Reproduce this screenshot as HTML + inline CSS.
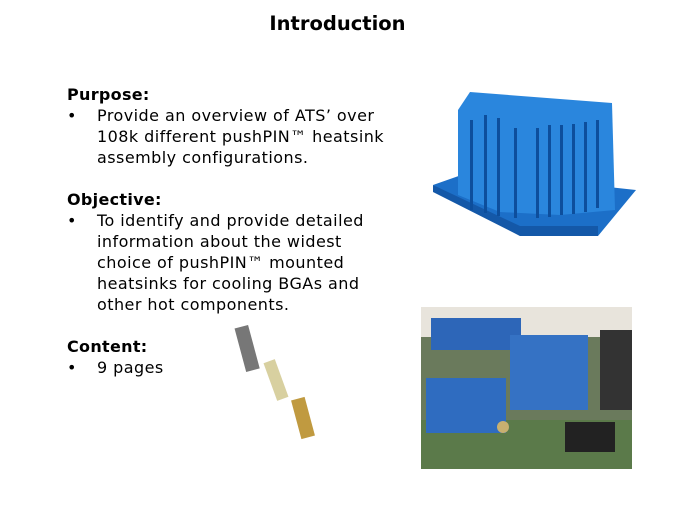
<!DOCTYPE html>
<html><head><meta charset="utf-8"><style>
body{margin:0;width:675px;height:506px;background:#fff;position:relative;overflow:hidden;font-family:"DejaVu Sans","Liberation Sans",sans-serif;color:#000}
.t{position:absolute;left:0;width:675px;top:12px;text-align:center;font-weight:bold;font-size:19.5px}
.x{position:absolute;left:67px;font-size:16px;letter-spacing:0.45px;line-height:21px;white-space:nowrap}
.b{font-weight:bold;letter-spacing:0.3px}
.i{padding-left:30px}
.u{position:relative}
.u span{position:absolute;left:30px}
</style></head><body>
<div class="t">Introduction</div>
<div class="x" style="top:84px">
<div class="b">Purpose:</div>
<div class="u">•<span>Provide an overview of ATS’ over</span></div>
<div class="i">108k different pushPIN™ heatsink</div>
<div class="i">assembly configurations.</div>
<div>&nbsp;</div>
<div class="b">Objective:</div>
<div class="u">•<span>To identify and provide detailed</span></div>
<div class="i">information about the widest</div>
<div class="i">choice of pushPIN™ mounted</div>
<div class="i">heatsinks for cooling BGAs and</div>
<div class="i">other hot components.</div>
<div>&nbsp;</div>
<div class="b">Content:</div>
<div class="u">•<span>9 pages</span></div>
</div>
<svg width="675" height="506" style="position:absolute;left:0;top:0">
<polygon points="433,185 470,172 636,190 598,236 520,236" fill="#1c6fc8"/>
<polygon points="433,185 520,226 598,226 598,236 520,236 433,192" fill="#1458a8"/>
<polygon points="458,110 470,92 612,103 615,210 560,215 500,212 458,195" fill="#2a86dd"/>
<g fill="#0d4e9c">
<rect x="470" y="120" width="3" height="90"/><rect x="484" y="115" width="3" height="98"/>
<rect x="497" y="118" width="3" height="98"/><rect x="514" y="128" width="3" height="90"/>
<rect x="536" y="128" width="3" height="90"/><rect x="548" y="125" width="3" height="92"/>
<rect x="560" y="125" width="3" height="90"/><rect x="572" y="124" width="3" height="90"/>
<rect x="584" y="122" width="3" height="90"/><rect x="596" y="120" width="3" height="88"/>
</g>
<rect x="421" y="307" width="211" height="162" fill="#6a7a5c"/>
<rect x="421" y="307" width="211" height="30" fill="#e8e4dc"/>
<rect x="421" y="420" width="211" height="49" fill="#5b7a4a"/>
<rect x="431" y="318" width="90" height="32" fill="#2d66b8"/>
<rect x="510" y="335" width="78" height="75" fill="#3572c4"/>
<rect x="426" y="378" width="80" height="55" fill="#2f6cc0"/>
<rect x="565" y="422" width="50" height="30" fill="#222"/>
<rect x="600" y="330" width="32" height="80" fill="#333"/>
<circle cx="503" cy="427" r="6" fill="#c8b070"/>
<g fill="#777"><rect x="240" y="326" width="14" height="45" transform="rotate(-15 247 348)"/></g>
<g fill="#d8d0a0"><rect x="270" y="360" width="12" height="40" transform="rotate(-20 276 380)"/></g>
<g fill="#c09a40"><rect x="296" y="398" width="14" height="40" transform="rotate(-15 303 418)"/></g>
</svg>
</body></html>
